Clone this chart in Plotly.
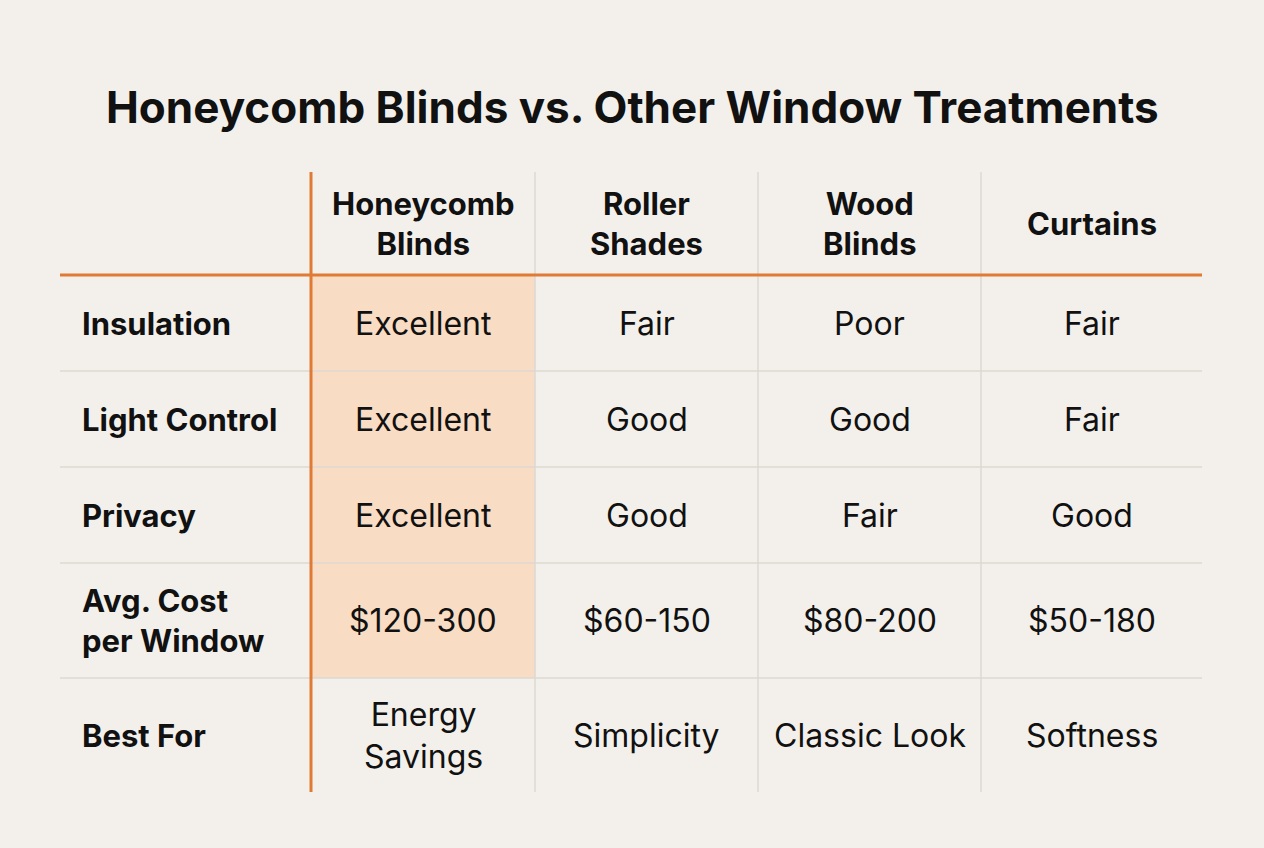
import plotly.graph_objects as go

title = "Honeycomb Blinds vs. Other Window Treatments"
columns = ["Honeycomb<br>Blinds", "Roller<br>Shades", "Wood<br>Blinds", "Curtains"]
rows = ["Insulation", "Light Control", "Privacy", "Avg. Cost<br>per Window", "Best For"]
honeycomb = ["Excellent", "Excellent", "Excellent", "$120-300", "Energy<br>Savings"]
roller = ["Fair", "Good", "Good", "$60-150", "Simplicity"]
wood = ["Poor", "Good", "Fair", "$80-200", "Classic Look"]
curtains = ["Fair", "Fair", "Good", "$50-180", "Softness"]
values = [honeycomb, roller, wood, curtains]

# layout geometry (pixels)
col_edges = [60, 311, 535, 758, 981, 1202]
row_edges = [172, 275, 371, 467, 563, 678, 792]

W, H = 1264, 848
BG = "#f3f0eb"
ORANGE = "#e07a35"
GRID = "#dcd8d2"
HIGHLIGHT = "#f9dcc4"
FONT = "Inter, Roboto, sans-serif"

fig = go.Figure()
shapes = []
ann = []

shapes.append(dict(type="rect", x0=col_edges[1], x1=col_edges[2], y0=row_edges[1], y1=row_edges[-2],
                   fillcolor=HIGHLIGHT, line_width=0, layer="below"))
for y in row_edges[2:-1]:
    shapes.append(dict(type="line", x0=col_edges[0], x1=col_edges[-1], y0=y, y1=y, line=dict(color=GRID, width=1.5)))
for x in col_edges[2:-1]:
    shapes.append(dict(type="line", x0=x, x1=x, y0=row_edges[0], y1=row_edges[-1], line=dict(color=GRID, width=1.5)))
shapes.append(dict(type="line", x0=col_edges[0], x1=col_edges[-1], y0=row_edges[1], y1=row_edges[1], line=dict(color=ORANGE, width=3)))
shapes.append(dict(type="line", x0=col_edges[1], x1=col_edges[1], y0=row_edges[0], y1=row_edges[-1], line=dict(color=ORANGE, width=3)))

def cx(i):
    return (col_edges[i] + col_edges[i + 1]) / 2
def cy(j):
    return (row_edges[j] + row_edges[j + 1]) / 2

ann.append(dict(x=W / 2, y=107, text="<b>" + title + "</b>", showarrow=False,
                font=dict(size=44, color="#111", family=FONT)))
for i, c in enumerate(columns):
    ann.append(dict(x=cx(i + 1), y=cy(0), text="<b>" + c + "</b>", showarrow=False,
                    font=dict(size=31, color="#111", family=FONT)))
for j, r in enumerate(rows):
    ann.append(dict(x=80, y=cy(j + 1), xanchor="left", align="left", text="<b>" + r + "</b>", showarrow=False,
                    font=dict(size=31, color="#111", family=FONT)))
    for i, col in enumerate(values):
        ann.append(dict(x=cx(i + 1), y=cy(j + 1), text=col[j], showarrow=False,
                        font=dict(size=32, color="#111", family=FONT)))

fig.update_layout(
    width=W, height=H, margin=dict(l=0, r=0, t=0, b=0),
    paper_bgcolor=BG, plot_bgcolor=BG,
    xaxis=dict(range=[0, W], visible=False, fixedrange=True),
    yaxis=dict(range=[H, 0], visible=False, fixedrange=True),
    shapes=shapes, annotations=ann, showlegend=False,
)
fig.write_html("out.html", config={"displayModeBar": False},
               post_script="document.body.style.margin='0';document.body.style.overflow='hidden';document.body.style.background='%s';" % BG)
